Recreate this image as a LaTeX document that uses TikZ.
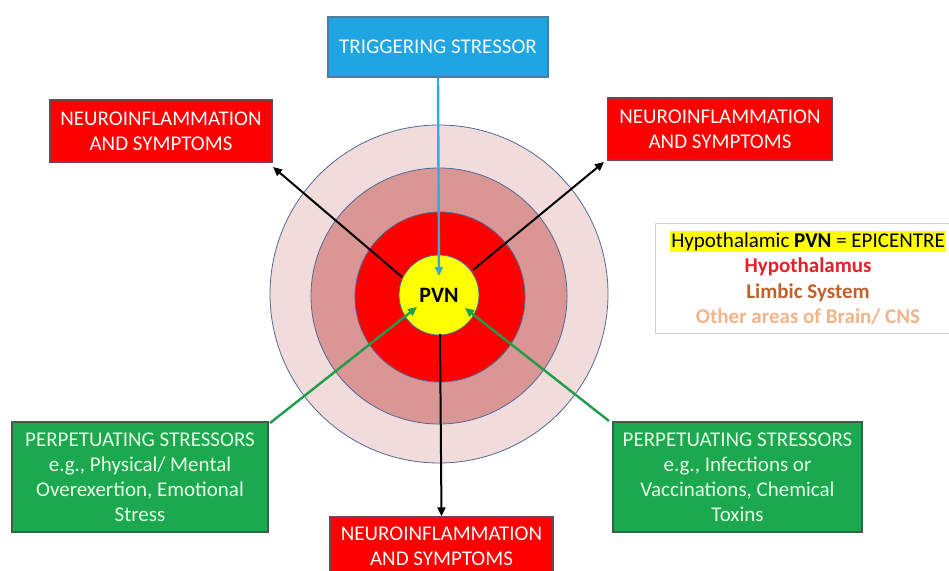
\documentclass[tikz,border=0pt]{standalone}
\usepackage{fontspec}
\setmainfont{Carlito}
\usetikzlibrary{arrows.meta}
\definecolor{ringA}{HTML}{F2DCDB}
\definecolor{ringB}{HTML}{D99694}
\definecolor{ringC}{HTML}{FF0000}
\definecolor{pvnyel}{HTML}{FFFF00}
\definecolor{ringline}{HTML}{4F6A96}
\definecolor{boxred}{HTML}{FF0000}
\definecolor{boxredline}{HTML}{6E4650}
\definecolor{boxblue}{HTML}{1FA6E2}
\definecolor{boxblueline}{HTML}{4A7FA0}
\definecolor{boxgreen}{HTML}{1BA84F}
\definecolor{boxgreenline}{HTML}{3E5E48}
\definecolor{arrblue}{HTML}{35A9DF}
\definecolor{arrgreen}{HTML}{1E9E4A}
\definecolor{limbic}{HTML}{C0612B}
\definecolor{otherc}{HTML}{F3B48C}
\definecolor{hypored}{HTML}{E8202A}
\definecolor{legline}{HTML}{D0D0D0}
\tikzset{
  ring/.style={circle, draw=ringline, line width=0.8pt, inner sep=0pt},
  box/.style={rectangle, line width=1.2pt, align=center, inner sep=0pt,
    font=\fontsize{21}{25}\selectfont},
  redbox/.style={box, fill=boxred, draw=boxredline, text=white!92!pink},
  bluebox/.style={box, fill=boxblue, draw=boxblueline, text=white!94!cyan},
  greenbox/.style={box, fill=boxgreen, draw=boxgreenline, text=white!90!green},
  arr/.style={line width=2pt, -{Triangle[length=9pt,width=8pt]}},
  blackarr/.style={arr, draw=black},
  bluearr/.style={arr, draw=arrblue, line width=2.4pt},
  greenarr/.style={arr, draw=arrgreen, line width=2.4pt},
}
\begin{document}
\begin{tikzpicture}[x=1pt,y=-1pt]
\useasboundingbox (0,0) rectangle (949,570);
% target rings
\node[ring, fill=ringA, minimum size=338pt] (outer) at (439,294) {};
\node[ring, fill=ringB, minimum size=256pt] (middle) at (439,296) {};
\node[ring, fill=ringC, minimum size=170pt] (inner) at (440,297) {};
\node[ring, fill=pvnyel, minimum size=80pt, font=\fontsize{22}{24}\selectfont\bfseries] (pvn) at (439,295) {PVN};
% boxes
\node[bluebox, minimum width=220pt, minimum height=60pt] (trig) at (438,47) {TRIGGERING STRESSOR};
\node[redbox, minimum width=222pt, minimum height=62pt] (nil) at (161,131) {NEUROINFLAMMATION\\AND SYMPTOMS};
\node[redbox, minimum width=225pt, minimum height=62pt] (nir) at (720,129) {NEUROINFLAMMATION\\AND SYMPTOMS};
\node[redbox, minimum width=223pt, minimum height=58pt] (nib) at (441.5,546) {NEUROINFLAMMATION\\AND SYMPTOMS};
\node[greenbox, minimum width=256pt, minimum height=110pt] (gl) at (140,477) {PERPETUATING STRESSORS\\e.g., Physical/ Mental\\Overexertion, Emotional\\Stress};
\node[greenbox, minimum width=249pt, minimum height=110pt] (gr) at (737.5,477) {PERPETUATING STRESSORS\\e.g., Infections or\\Vaccinations, Chemical\\Toxins};
% legend
\node[rectangle, draw=legline, line width=1pt, fill=white, minimum width=306pt, minimum height=110pt, align=center, inner sep=0pt,
  font=\fontsize{21}{25.5}\selectfont] (legend) at (808,278)
  {\setlength{\fboxsep}{1.5pt}\colorbox{pvnyel}{Hypothalamic \textbf{PVN} = EPICENTRE}\\
   \textcolor{hypored}{\textbf{Hypothalamus}}\\
   \textcolor{limbic}{\textbf{Limbic System}}\\
   \textcolor{otherc}{\textbf{Other areas of Brain/ CNS}}};
% arrow end points inside the PVN
\coordinate (pvnTop) at (439,276);
\coordinate (pvnNW) at (402,277);
\coordinate (pvnNE) at (473,270);
\coordinate (pvnS) at (440,334);
\coordinate (pvnSW) at (417,307);
\coordinate (pvnSE) at (465,308);
\coordinate (nilTip) at (273,167);
\coordinate (nirTip) at (604,162);
\coordinate (glTail) at (270,423);
\coordinate (grTail) at (609,421);
% arrows
\draw[bluearr] (trig.south) -- (pvnTop);
\draw[blackarr] (pvnNW) -- (nilTip);
\draw[blackarr] (pvnNE) -- (nirTip);
\draw[blackarr] (pvnS) -- (nib.north);
\draw[greenarr] (glTail) -- (pvnSW);
\draw[greenarr] (grTail) -- (pvnSE);
\end{tikzpicture}
\end{document}
